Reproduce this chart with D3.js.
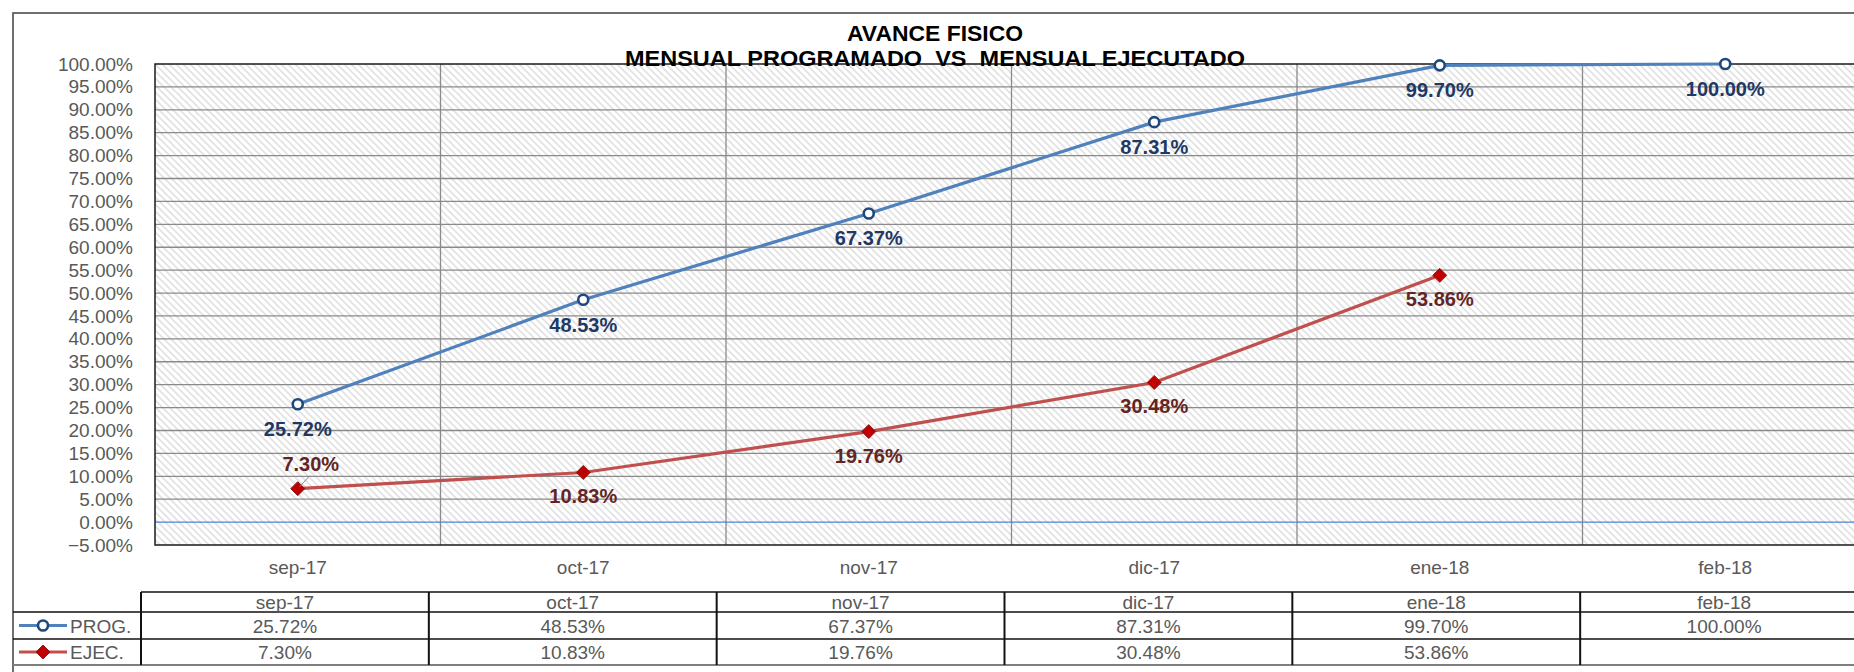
<!DOCTYPE html>
<html>
<head>
<meta charset="utf-8">
<script src="https://cdn.jsdelivr.net/npm/d3@7/dist/d3.min.js"></script>
<style>
  html, body { margin: 0; padding: 0; background: #fff; }
  svg { display: block; font-family: "Liberation Sans", Arial, sans-serif; }
</style>
</head>
<body>
<div id="chart"></div>
<script>
// ---- Data -------------------------------------------------------------------
const months = ['sep-17', 'oct-17', 'nov-17', 'dic-17', 'ene-18', 'feb-18'];
const prog   = [25.72, 48.53, 67.37, 87.31, 99.70, 100.00];
const ejec   = [7.30, 10.83, 19.76, 30.48, 53.86, null];
const yTicks = d3.range(-5, 100.001, 5);
const titleLines = ['AVANCE FISICO', 'MENSUAL PROGRAMADO  VS  MENSUAL EJECUTADO'];

const W = 1854, H = 672;
const M = { top: 64, right: 1868, bottom: 545, left: 155 };   // plot box edges
const TBL = { left: 141, legendLeft: 13, rows: [592, 612, 639, 665] };

const BLUE = '#4f81bd', BLUE_DK = '#1f497d', BLUE_LBL = '#1f3864';
const RED = '#c0504d', RED_DK = '#c00000', RED_LBL = '#632523';
const GREY_TXT = '#595959', GRID = '#8a8a8a';

const pct = d => d3.format('.2f')(d) + '%';

const svg = d3.select('#chart').append('svg')
  .attr('width', W).attr('height', H);

// hatch fill like the Excel plot area
const defs = svg.append('defs');
defs.append('pattern')
  .attr('id', 'hatch').attr('patternUnits', 'userSpaceOnUse')
  .attr('width', 7).attr('height', 7)
  .append('path')
  .attr('d', 'M0,0L7,7M-3.5,3.5L3.5,10.5M3.5,-3.5L10.5,3.5')
  .attr('stroke', '#e2e2e2').attr('stroke-width', 1.7);

// ---- Scales -----------------------------------------------------------------
const x = d3.scaleBand().domain(months).range([M.left, M.right]);
const xc = m => x(m) + x.bandwidth() / 2;
const y = d3.scaleLinear().domain([-5, 100]).range([M.bottom, M.top]);
const xt = d3.scaleBand().domain(months).range([TBL.left, M.right]);

// outer chart border
svg.append('rect')
  .attr('x', 13).attr('y', 13).attr('width', 1867).attr('height', 720)
  .attr('fill', 'none').attr('stroke', '#404040').attr('stroke-width', 1.5);

// plot background
svg.append('rect')
  .attr('x', M.left).attr('y', M.top)
  .attr('width', M.right - M.left).attr('height', M.bottom - M.top)
  .attr('fill', 'url(#hatch)');

// horizontal grid
svg.append('g')
  .selectAll('line').data(yTicks.filter(d => d > -5 && d < 100 && d !== 0))
  .join('line')
  .attr('x1', M.left).attr('x2', M.right)
  .attr('y1', d => y(d)).attr('y2', d => y(d))
  .attr('stroke', GRID).attr('stroke-width', 1.3);

// vertical grid at category boundaries
svg.append('g')
  .selectAll('line').data(months.slice(1))
  .join('line')
  .attr('x1', d => x(d)).attr('x2', d => x(d))
  .attr('y1', M.top).attr('y2', M.bottom)
  .attr('stroke', GRID).attr('stroke-width', 1.3);

// category axis line at 0%
svg.append('line')
  .attr('x1', M.left).attr('x2', M.right)
  .attr('y1', y(0)).attr('y2', y(0))
  .attr('stroke', '#4a86d4').attr('stroke-width', 1.2);

// plot border (left, top, bottom)
svg.append('path')
  .attr('d', `M${M.right},${M.top}H${M.left}V${M.bottom}H${M.right}`)
  .attr('fill', 'none').attr('stroke', '#1a1a1a').attr('stroke-width', 1.5);

// y axis labels
svg.append('g')
  .attr('transform', `translate(${M.left},0)`)
  .call(d3.axisLeft(y).tickValues(yTicks).tickFormat(pct).tickSize(0).tickPadding(22))
  .call(g => g.select('.domain').remove())
  .call(g => g.selectAll('text')
    .style('font-size', '19px').style('font-family', '"Liberation Sans", Arial, sans-serif')
    .attr('fill', GREY_TXT));

// x axis labels
svg.append('g')
  .attr('transform', `translate(0,${M.bottom})`)
  .call(d3.axisBottom(x).tickSize(0).tickPadding(16))
  .call(g => g.select('.domain').remove())
  .call(g => g.selectAll('text')
    .style('font-size', '19px').style('font-family', '"Liberation Sans", Arial, sans-serif')
    .attr('fill', GREY_TXT));

// ---- Series -----------------------------------------------------------------
const progPts = months.map((m, i) => ({ m, v: prog[i] }));
const ejecPts = months.map((m, i) => ({ m, v: ejec[i] })).filter(d => d.v != null);
const line = d3.line().x(d => xc(d.m)).y(d => y(d.v));

svg.append('path').datum(progPts)
  .attr('d', line).attr('fill', 'none')
  .attr('stroke', BLUE).attr('stroke-width', 3.2);
svg.append('path').datum(ejecPts)
  .attr('d', line).attr('fill', 'none')
  .attr('stroke', RED).attr('stroke-width', 3.2);

const diamond = s => `M0,${-s}L${s},0L0,${s}L${-s},0Z`;

svg.append('g').selectAll('circle').data(progPts).join('circle')
  .attr('cx', d => xc(d.m)).attr('cy', d => y(d.v)).attr('r', 5)
  .attr('fill', '#fff').attr('stroke', BLUE_DK).attr('stroke-width', 2.6);

svg.append('g').selectAll('path').data(ejecPts).join('path')
  .attr('transform', d => `translate(${xc(d.m)},${y(d.v)})`)
  .attr('d', diamond(7))
  .attr('fill', RED_DK).attr('stroke', '#8b1a1a').attr('stroke-width', 1);

// data labels
const LBL = '20px';
svg.append('g').selectAll('text').data(progPts).join('text')
  .attr('x', d => xc(d.m)).attr('y', d => y(d.v) + 32)
  .attr('text-anchor', 'middle')
  .style('font-size', LBL).style('font-weight', 'bold')
  .attr('fill', BLUE_LBL)
  .text(d => pct(d.v));

ejecPts.forEach((d, i) => {
  const px = xc(d.m), py = y(d.v);
  if (i === 0) {
    // label moved above the point, with leader line
    svg.append('line')
      .attr('x1', px + 2).attr('y1', py - 2).attr('x2', px + 12).attr('y2', py - 13)
      .attr('stroke', '#8c8c8c').attr('stroke-width', 1);
    svg.append('text')
      .attr('x', px + 13).attr('y', py - 18)
      .attr('text-anchor', 'middle')
      .style('font-size', LBL).style('font-weight', 'bold')
      .attr('fill', RED_LBL).text(pct(d.v));
  } else {
    svg.append('text')
      .attr('x', px).attr('y', py + 31)
      .attr('text-anchor', 'middle')
      .style('font-size', LBL).style('font-weight', 'bold')
      .attr('fill', RED_LBL).text(pct(d.v));
  }
});

// ---- Title ------------------------------------------------------------------
const titleW = [176, 620];
svg.append('g').selectAll('text').data(titleLines).join('text')
  .attr('x', 935).attr('y', (d, i) => 41 + i * 25)
  .attr('text-anchor', 'middle')
  .attr('textLength', (d, i) => titleW[i]).attr('lengthAdjust', 'spacingAndGlyphs')
  .style('font-size', '22px').style('font-weight', 'bold')
  .style('white-space', 'pre')
  .attr('fill', '#000')
  .text(d => d);

// ---- Data table -------------------------------------------------------------
const tbl = svg.append('g');
const [r0, r1, r2, r3] = TBL.rows;
const tStroke = '#111';

// horizontal rules
tbl.append('line').attr('x1', TBL.left).attr('x2', M.right).attr('y1', r0).attr('y2', r0)
  .attr('stroke', tStroke).attr('stroke-width', 1.5);
[r1, r2].forEach(r => tbl.append('line')
  .attr('x1', TBL.legendLeft).attr('x2', M.right).attr('y1', r).attr('y2', r)
  .attr('stroke', tStroke).attr('stroke-width', 1.5));
tbl.append('line').attr('x1', TBL.legendLeft).attr('x2', M.right).attr('y1', r3).attr('y2', r3)
  .attr('stroke', '#7f7f7f').attr('stroke-width', 2);

// vertical rules
tbl.append('line').attr('x1', TBL.left).attr('x2', TBL.left).attr('y1', r0).attr('y2', r3)
  .attr('stroke', tStroke).attr('stroke-width', 2);
tbl.selectAll('.vcol').data(months.slice(1)).join('line')
  .attr('x1', d => xt(d)).attr('x2', d => xt(d)).attr('y1', r0).attr('y2', r3)
  .attr('stroke', tStroke).attr('stroke-width', 2);

const cellText = (sel) => sel
  .attr('text-anchor', 'middle')
  .style('font-size', '19px').attr('fill', GREY_TXT);

tbl.selectAll('.hdr').data(months).join('text')
  .attr('x', d => xt(d) + xt.bandwidth() / 2).attr('y', (r0 + r1) / 2 + 7)
  .call(cellText).text(d => d);
tbl.selectAll('.rp').data(progPts).join('text')
  .attr('x', d => xt(d.m) + xt.bandwidth() / 2).attr('y', (r1 + r2) / 2 + 7)
  .call(cellText).text(d => pct(d.v));
tbl.selectAll('.re').data(ejecPts).join('text')
  .attr('x', d => xt(d.m) + xt.bandwidth() / 2).attr('y', (r2 + r3) / 2 + 7)
  .call(cellText).text(d => pct(d.v));

// legend keys in the table
const keys = [
  { name: 'PROG.', color: BLUE, row: (r1 + r2) / 2, marker: 'circle' },
  { name: 'EJEC.', color: RED, row: (r2 + r3) / 2, marker: 'diamond' }
];
keys.forEach(k => {
  tbl.append('line').attr('x1', 19).attr('x2', 67).attr('y1', k.row).attr('y2', k.row)
    .attr('stroke', k.color).attr('stroke-width', 3.2);
  if (k.marker === 'circle') {
    tbl.append('circle').attr('cx', 43).attr('cy', k.row).attr('r', 5)
      .attr('fill', '#fff').attr('stroke', BLUE_DK).attr('stroke-width', 2.6);
  } else {
    tbl.append('path').attr('transform', `translate(43,${k.row})`).attr('d', diamond(7))
      .attr('fill', RED_DK).attr('stroke', '#8b1a1a').attr('stroke-width', 1);
  }
  tbl.append('text').attr('x', 70).attr('y', k.row + 7)
    .style('font-size', '19px').attr('fill', GREY_TXT).text(k.name);
});
</script>
</body>
</html>
